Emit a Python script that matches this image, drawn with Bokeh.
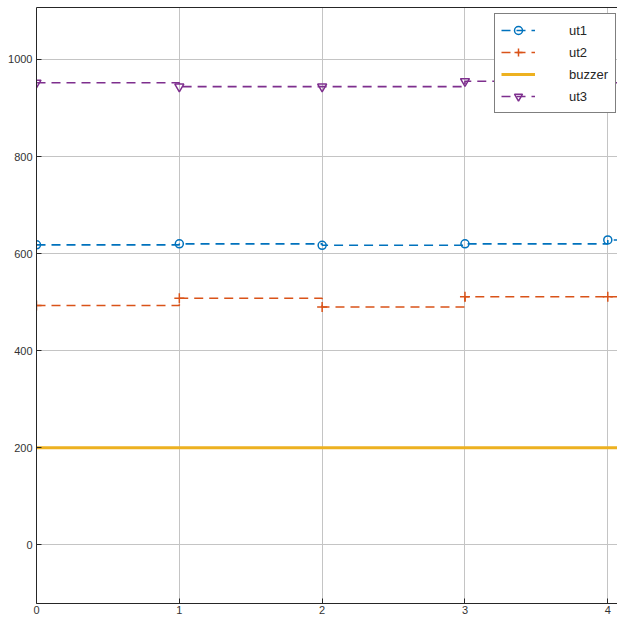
from bokeh.plotting import figure
from bokeh.models import Range1d, FixedTicker, LinearAxis, Legend, LegendItem
from bokeh.embed import file_html
from bokeh.resources import INLINE

# data
x = [0, 1, 2, 3, 4, 5]
ut1 = [618, 620, 617, 620, 628, 628]
ut2 = [493, 508, 490, 511, 511, 511]
buzzer = [200, 200, 200, 200, 200, 200]
ut3 = [952, 944, 944, 955, 952, 952]
x_ticks = [0, 1, 2, 3, 4]
y_ticks = [0, 200, 400, 600, 800, 1000]

c1, c2, c3, c4 = "#0072BD", "#D95319", "#EDB120", "#7E2F8E"

p = figure(width=617, height=619, output_backend="svg", toolbar_location=None,
           x_range=Range1d(0, 4.068), y_range=Range1d(-121, 1107),
           min_border_left=36, min_border_right=0, min_border_top=7, min_border_bottom=16)
p.outline_line_color = None
p.background_fill_color = "white"

for ax, ticks in ((p.xaxis[0], x_ticks), (p.yaxis[0], y_ticks)):
    ax.ticker = FixedTicker(ticks=ticks)
    ax.major_tick_in = 5
    ax.major_tick_out = 0
    ax.minor_tick_line_color = None
    ax.axis_line_color = "#262626"
    ax.major_tick_line_color = "#262626"
    ax.major_label_text_font = "Liberation Sans"
    ax.major_label_text_font_size = "11px"
    ax.major_label_text_color = "#333333"
p.yaxis[0].major_label_standoff = 4
p.xaxis[0].major_label_standoff = 2

top = LinearAxis(ticker=FixedTicker(ticks=[]), major_label_text_font_size="0px",
                 axis_line_color="#262626", major_tick_line_color=None, minor_tick_line_color=None,
                 major_label_standoff=0)
p.add_layout(top, "above")

p.xgrid.ticker = FixedTicker(ticks=x_ticks)
p.ygrid.ticker = FixedTicker(ticks=y_ticks)
p.grid.grid_line_color = "#c4c4c4"
p.grid.grid_line_width = 1

dash = "9 6"
r1 = p.step(x, ut1, mode="after", line_color=c1, line_width=1.6, line_dash=dash)
s1 = p.scatter(x[:5], ut1[:5], marker="circle", size=8, fill_color=None, line_color=c1, line_width=1.5)
r2 = p.step(x, ut2, mode="after", line_color=c2, line_width=1.6, line_dash=dash)
s2 = p.scatter(x[:5], ut2[:5], marker="cross", size=10, line_color=c2, line_width=1.5)
r3 = p.step(x, buzzer, mode="after", line_color=c3, line_width=3)
r4 = p.step(x, ut3, mode="after", line_color=c4, line_width=1.6, line_dash=dash)
s4 = p.scatter(x[:5], ut3[:5], marker="inverted_triangle", size=9, fill_color=None, line_color=c4, line_width=1.5)

legend = Legend(items=[
    LegendItem(label="ut1", renderers=[r1, s1]),
    LegendItem(label="ut2", renderers=[r2, s2]),
    LegendItem(label="buzzer", renderers=[r3]),
    LegendItem(label="ut3", renderers=[r4, s4]),
], location=(458, 490))
legend.border_line_color = "black"
legend.border_line_width = 1
legend.background_fill_color = "white"
legend.background_fill_alpha = 1
legend.label_text_font = "Liberation Sans"
legend.label_text_font_size = "13px"
legend.label_text_color = "#262626"
legend.glyph_width = 34
legend.glyph_height = 20
legend.label_height = 20
legend.label_width = 40
legend.label_standoff = 34
legend.spacing = 2
legend.padding = 6
legend.margin = 0
p.add_layout(legend, "center")

html = file_html(p, INLINE)
open("out.html", "w").write(html)
